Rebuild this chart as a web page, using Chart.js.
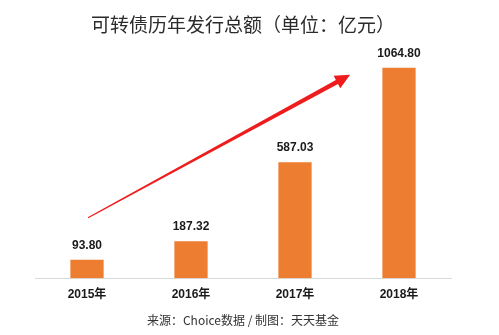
<!DOCTYPE html>
<html>
<head>
<meta charset="utf-8">
<script src="https://cdn.jsdelivr.net/npm/chart.js@4.4.0/dist/chart.umd.min.js"></script>
<style>
  html, body { margin: 0; padding: 0; background: #fff; }
  #wrap { width: 499px; height: 335px; }
</style>
</head>
<body>
<div id="wrap"><canvas id="myChart" width="499" height="335"></canvas></div>
<script>
// data
var years = ['2015年', '2016年', '2017年', '2018年']
var issueTotal = [93.80, 187.32, 587.03, 1064.80]

var cjk = "'Liberation Sans', 'Noto Sans CJK SC', sans-serif"

// value labels above each bar
const barLabels = {
  id: 'barLabels',
  afterDatasetsDraw(chart) {
    const ctx = chart.ctx
    const meta = chart.getDatasetMeta(0)
    ctx.save()
    ctx.font = 'bold 12px ' + cjk
    ctx.fillStyle = '#1a1a1a'
    ctx.textAlign = 'center'
    ctx.textBaseline = 'middle'
    meta.data.forEach((bar, i) => {
      ctx.fillText(issueTotal[i].toFixed(2), bar.x, bar.y - 14)
    })
    ctx.restore()
  }
}

// red trend arrow, ends given in data units
const trendArrow = {
  id: 'trendArrow',
  afterDatasetsDraw(chart, args, opts) {
    const xs = chart.scales.x, ys = chart.scales.y
    const x0 = xs.getPixelForValue(opts.from[0]), y0 = ys.getPixelForValue(opts.from[1])
    const x1 = xs.getPixelForValue(opts.to[0]), y1 = ys.getPixelForValue(opts.to[1])
    const len = Math.hypot(x1 - x0, y1 - y0)
    const ux = (x1 - x0) / len, uy = (y1 - y0) / len
    const nx = -uy, ny = ux
    const headLen = 15, headW = 7, w0 = 0.6, w1 = 2.2
    const bx = x1 - ux * headLen, by = y1 - uy * headLen
    const ctx = chart.ctx
    ctx.save()
    ctx.fillStyle = opts.color
    ctx.beginPath()
    ctx.moveTo(x0 + nx * w0, y0 + ny * w0)
    ctx.lineTo(bx + nx * w1, by + ny * w1)
    ctx.lineTo(bx + nx * headW, by + ny * headW)
    ctx.lineTo(x1, y1)
    ctx.lineTo(bx - nx * headW, by - ny * headW)
    ctx.lineTo(bx - nx * w1, by - ny * w1)
    ctx.lineTo(x0 - nx * w0, y0 - ny * w0)
    ctx.closePath()
    ctx.fill()
    ctx.restore()
  }
}

const ctx = document.getElementById('myChart').getContext('2d')

const chart = new Chart(ctx, {
  type: 'bar',
  data: {
    labels: years,
    datasets: [{
      label: '发行总额',
      backgroundColor: '#ED7D31',
      data: issueTotal,
      barPercentage: 0.32,
      categoryPercentage: 1
    }]
  },
  options: {
    responsive: false,
    animation: false,
    layout: {
      padding: { left: 35, right: 48, top: 0, bottom: 4 }
    },
    plugins: {
      legend: { display: false },
      tooltip: { enabled: false },
      title: {
        display: true,
        text: '可转债历年发行总额（单位：亿元）',
        color: '#2b2b2b',
        font: { family: "'Noto Sans CJK SC', sans-serif", size: 19, weight: 'normal' },
        padding: { top: 13, bottom: 25 }
      },
      subtitle: {
        display: true,
        position: 'bottom',
        text: '来源：Choice数据 / 制图：天天基金',
        color: '#333333',
        font: { family: "'Noto Sans CJK SC', sans-serif", size: 12, weight: 'normal' },
        padding: { top: 3, bottom: 3 }
      },
      trendArrow: {
        from: [0.01, 306],
        to: [2.53, 1029],
        color: '#EE1C1C'
      }
    },
    scales: {
      x: {
        grid: { display: false, drawTicks: false },
        border: { display: true, color: '#D9D9D9', width: 1 },
        ticks: {
          color: '#1a1a1a',
          padding: 9,
          font: { family: cjk, size: 12, weight: 'bold' }
        }
      },
      y: {
        display: false,
        min: 0,
        max: 1100
      }
    }
  },
  plugins: [barLabels, trendArrow]
})
</script>
</body>
</html>
